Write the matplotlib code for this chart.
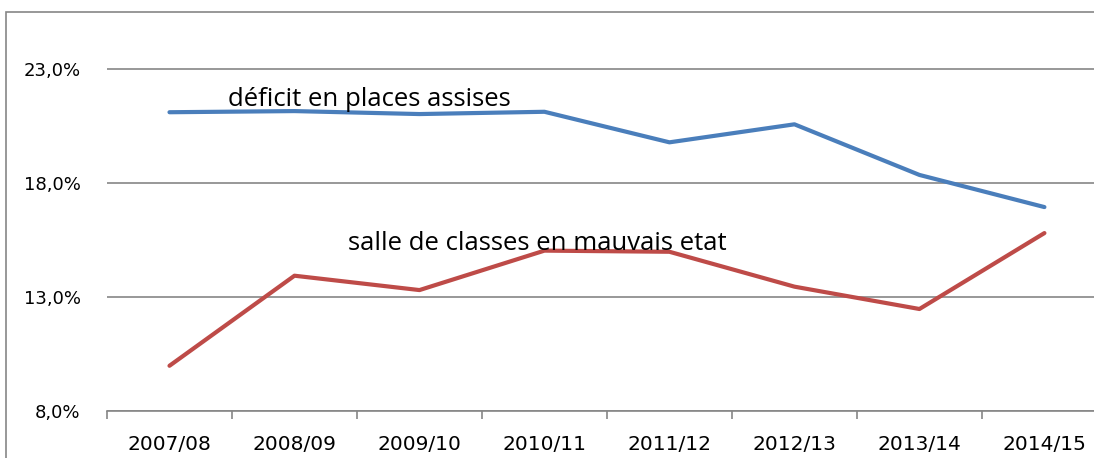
import matplotlib
matplotlib.use('Agg')
import matplotlib.pyplot as plt
from matplotlib.patches import Rectangle
from matplotlib.ticker import FixedLocator, FuncFormatter

years = ['2007/08', '2008/09', '2009/10', '2010/11', '2011/12', '2012/13', '2013/14', '2014/15']
deficit_places = [21.09, 21.14, 21.01, 21.11, 19.77, 20.56, 18.34, 16.93]
salles_mauvais = [9.97, 13.92, 13.29, 15.02, 14.97, 13.44, 12.46, 15.79]
y_ticks = [8, 13, 18, 23]

blue = '#4A7EBB'
red = '#BE4B48'
grid_grey = '#868686'

fig = plt.figure(figsize=(10.94, 4.58), dpi=100)
ax = fig.add_axes([0.0978, 0.1033, 0.914, 0.8463])

# outer chart border (cut off at the right and bottom)
fig.patches.append(Rectangle((6 / 1094, -0.1), 2.0, 1 - 12 / 458 + 0.1,
                             transform=fig.transFigure, fill=False,
                             edgecolor=grid_grey, linewidth=1.2))

x = list(range(len(years)))
ax.plot(x, deficit_places, color=blue, linewidth=3, solid_capstyle='round', zorder=3)
ax.plot(x, salles_mauvais, color=red, linewidth=3, solid_capstyle='round', zorder=3)

ax.set_xlim(-0.5, len(years) - 0.5)
ax.set_ylim(8, 25)

ax.yaxis.set_major_locator(FixedLocator(y_ticks))
ax.yaxis.set_major_formatter(FuncFormatter(lambda v, p: f"{v:.1f}%".replace('.', ',')))
ax.grid(axis='y', color=grid_grey, linewidth=1.2)
ax.set_axisbelow(True)
ax.tick_params(axis='y', length=0, pad=19, labelsize=13)

# ticks between categories, labels centred on categories
ax.xaxis.set_major_locator(FixedLocator([i - 0.5 for i in range(len(years) + 1)]))
ax.xaxis.set_major_formatter(FuncFormatter(lambda v, p: ''))
ax.xaxis.set_minor_locator(FixedLocator(x))
ax.set_xticks(x, years, minor=True)
ax.tick_params(axis='x', which='major', length=6, width=1.2, color=grid_grey, direction='out')
ax.tick_params(axis='x', which='minor', length=0, pad=17.5, labelsize=14.5)

for side in ['top', 'right', 'left']:
    ax.spines[side].set_visible(False)
ax.spines['bottom'].set_color(grid_grey)
ax.spines['bottom'].set_linewidth(1.2)

ax.text(0.468, 21.36, 'déficit en places assises', fontsize=18.5, family='Open Sans',
        ha='left', va='baseline')
ax.text(1.428, 15.05, 'salle de classes en mauvais etat', fontsize=18.5, family='Open Sans',
        ha='left', va='baseline')

fig.savefig('out.png', dpi=100)
